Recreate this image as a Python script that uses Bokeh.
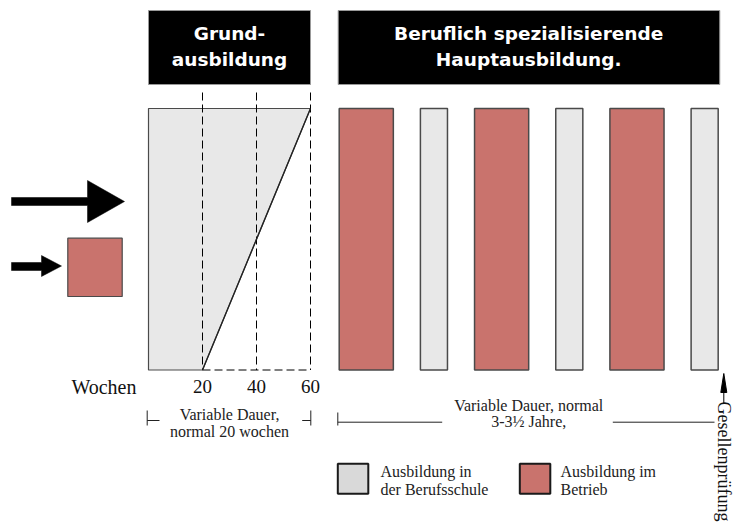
import math
from bokeh.plotting import figure
from bokeh.models import Range1d
from bokeh.core.properties import value
from bokeh.embed import file_html
from bokeh.resources import INLINE

# ---------------- data ----------------
week_ticks = [20, 40, 60]
week_tick_labels = ["20", "40", "60"]
grund_weeks_normal = 20
grund_weeks_max = 60
main_phases = ["Betrieb", "Berufsschule", "Betrieb", "Berufsschule", "Betrieb", "Berufsschule"]
main_phase_units = [2, 1, 2, 1, 2, 1]
header_grund = ["Grund-", "ausbildung"]
header_main = ["Beruflich spezialisierende", "Hauptausbildung."]
grund_note = ["Variable Dauer,", "normal 20 wochen"]
main_note = ["Variable Dauer, normal", "3-3½ Jahre,"]
legend_kinds = ["Berufsschule", "Betrieb"]
legend_lines = [["Ausbildung in", " der Berufsschule"], ["Ausbildung im", "Betrieb"]]
axis_label = "Wochen"
exam_label = "Gesellenprüfung"

# ---------------- layout / style ----------------
W, H = 736, 529
X0 = 148.0      # page px of week 0
PXW = 2.7       # px per week
def P(xpx):
    return (xpx - X0) / PXW

RED = "#C9736D"
GREY = "#E8E8E8"
LGREY = "#D9D9D9"
EDGE = "#4a4a4a"
SERIF = value("Liberation Serif")
SANS = value("DejaVu Sans")
fill_of = {"Betrieb": RED, "Berufsschule": GREY}
legend_fill = {"Betrieb": RED, "Berufsschule": LGREY}

TOP, BOT = 108.0, 369.5
DASH_TOP = 92.0
MAIN_LEFT = 338.7
UNIT = 27.07

p = figure(width=W, height=H, output_backend="svg", toolbar_location=None,
           x_range=Range1d(P(0), P(W)), y_range=Range1d(H, 0),
           x_axis_type=None, y_axis_type=None, min_border=0,
           background_fill_color="white", border_fill_color="white")
p.outline_line_color = None
p.grid.visible = False

# ---- header boxes ----
main_right = MAIN_LEFT + UNIT * (sum(main_phase_units) + len(main_phase_units) - 1)
p.quad(left=[0, P(MAIN_LEFT - 1)], right=[grund_weeks_max, P(main_right + 1.6)],
       top=[10, 10], bottom=[84, 84], fill_color="black", line_color="#999999", line_width=1)
gx = grund_weeks_max / 2
mx = P((MAIN_LEFT + main_right) / 2)
for i, (a, b) in enumerate(zip(header_grund, header_main)):
    yy = 33 + i * 26
    p.text(x=[gx, mx], y=[yy, yy], text=[a, b], text_color="white",
           text_font=SANS, text_font_style="bold", text_font_size="18.5px",
           text_align="center", text_baseline="middle")

# ---- Grundausbildung wedge ----
p.patch(x=[0, grund_weeks_max, grund_weeks_normal, 0], y=[TOP, TOP, BOT, BOT],
        fill_color=GREY, line_color=EDGE, line_width=1.2)
p.segment(x0=week_ticks, y0=[DASH_TOP] * 3, x1=week_ticks, y1=[BOT] * 3,
          line_color="black", line_width=1, line_dash="8 4")
p.segment(x0=[grund_weeks_normal], y0=[BOT], x1=[grund_weeks_max], y1=[BOT],
          line_color="black", line_width=1, line_dash="8 4")
p.line(x=[grund_weeks_normal, grund_weeks_max], y=[BOT, TOP], line_color="#222222", line_width=1.3)

# ---- main phase bars ----
lefts, rights, fills = [], [], []
cur = MAIN_LEFT
for kind, u in zip(main_phases, main_phase_units):
    lefts.append(P(cur))
    rights.append(P(cur + u * UNIT))
    fills.append(fill_of[kind])
    cur += (u + 1) * UNIT
p.quad(left=lefts, right=rights, top=[TOP] * len(lefts), bottom=[BOT] * len(lefts),
       fill_color=fills, line_color=EDGE, line_width=1.5)

# ---- week labels ----
p.text(x=week_ticks, y=[386] * 3, text=week_tick_labels, text_font=SERIF,
       text_font_size="19px", text_color="#111111", text_align="center", text_baseline="alphabetic")
p.text(x=[P(136)], y=[386], text=[axis_label], text_font=SERIF,
       text_font_size="20px", text_color="#111111", text_align="right", text_baseline="alphabetic")

# ---- duration brackets ----
p.segment(x0=[P(146.7), P(146.7), P(301.7), P(310.3)], y0=[410, 420, 420, 410],
          x1=[P(146.7), P(159), P(310.3), P(310.3)], y1=[425, 420, 420, 425],
          line_color="#222222", line_width=1)
for i, t in enumerate(grund_note):
    p.text(x=[grund_weeks_max / 2], y=[414 + i * 17], text=[t], text_font=SERIF,
           text_font_size="16px", text_color="#222222", text_align="center", text_baseline="middle")

p.segment(x0=[P(337.3), P(337.3), P(612.3)], y0=[412, 421.7, 421.7],
          x1=[P(337.3), P(441.7), P(714)], y1=[425, 421.7, 421.7],
          line_color="#222222", line_width=1)
for i, t in enumerate(main_note):
    p.text(x=[mx], y=[405 + i * 16], text=[t], text_font=SERIF,
           text_font_size="16px", text_color="#222222", text_align="center", text_baseline="middle")

# ---- Gesellenprüfung marker ----
p.patch(x=[P(723.3), P(720.3), P(726.3)], y=[373, 392, 392], fill_color="black", line_color="black")
p.segment(x0=[P(723.3)], y0=[390], x1=[P(723.3)], y1=[403], line_color="black", line_width=1)
p.text(x=[P(723.5)], y=[401], text=[exam_label], angle=-math.pi / 2, text_font=SERIF,
       text_font_size="18px", text_color="#111111", text_align="left", text_baseline="alphabetic")

# ---- left arrows + Betrieb square ----
big = ([11, 87, 87, 124, 87, 87, 11], [197, 197, 180, 201, 222, 205, 205])
small = ([11, 41, 41, 61, 41, 41, 11], [262, 262, 255, 265.5, 276, 270, 270])
for xs, ys in (big, small):
    p.patch(x=[P(v) for v in xs], y=ys, fill_color="black", line_color="black", line_width=0.5)
p.quad(left=[P(67.3)], right=[P(121.7)], top=[237.7], bottom=[296],
       fill_color=RED, line_color=EDGE, line_width=1.2)

# ---- legend ----
leg_x = [337.3, 519.3]
txt_x = [380, 560]
for kind, lx, tx, lines in zip(legend_kinds, leg_x, txt_x, legend_lines):
    p.quad(left=[P(lx)], right=[P(lx + 30.5)], top=[463.3], bottom=[493.3],
           fill_color=legend_fill[kind], line_color="#1a1a1a", line_width=2)
    for i, t in enumerate(lines):
        p.text(x=[P(tx)], y=[471 + i * 18], text=[t], text_font=SERIF,
               text_font_size="16px", text_color="#222222", text_align="left", text_baseline="middle")

open("out.html", "w").write(file_html(p, INLINE))
